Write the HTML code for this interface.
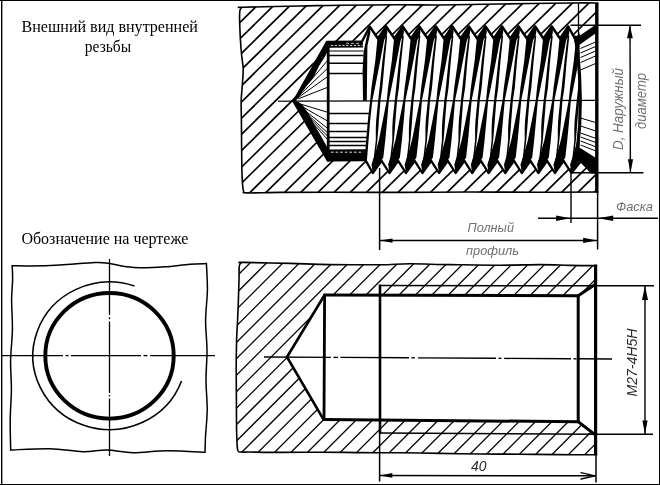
<!DOCTYPE html>
<html lang="ru">
<head>
<meta charset="utf-8">
<title>Внутренняя резьба</title>
<style>
html,body{margin:0;padding:0;background:#fff;}
body{width:660px;height:485px;overflow:hidden;font-family:"Liberation Sans",sans-serif;}
svg{display:block;will-change:transform;}
</style>
</head>
<body>
<svg width="660" height="485" viewBox="0 0 660 485">
<defs>
<clipPath id="cpTop"><path clip-rule="evenodd" d="M239.7 7.6 L243.0 7.2 L300.0 6.0 L340.0 5.2 L400.0 4.8 L440.0 5.0 L500.0 4.0 L572.0 3.0 L597.8 3.0 L597.8 192.0 L540.0 192.3 L470.0 192.0 L400.0 192.4 L330.0 192.2 L280.0 192.4 L244.5 193.0 L242.4 182.0 L241.8 165.0 L241.6 145.0 L241.4 120.0 L241.2 100.0 L242.4 84.0 L243.2 69.0 L241.6 55.0 L240.3 38.0 L239.6 20.0 Z M293.0 101.2 L328.4 42.0 L362.3 41.0 L369.7 26.5 L377.9 38.5 L386.2 26.5 L394.4 38.5 L402.8 26.5 L411.0 38.5 L419.4 26.5 L427.6 38.5 L435.9 26.5 L444.1 38.5 L452.4 26.5 L460.6 38.5 L469.0 26.5 L477.2 38.5 L485.6 26.5 L493.8 38.5 L502.1 26.5 L510.3 38.5 L518.6 26.5 L526.9 38.5 L535.2 26.5 L543.4 38.5 L551.8 26.5 L560.0 38.5 L568.3 26.5 L574.5 38.0 L579.0 36.0 L597.8 25.0 L597.8 173.0 L590.5 173.0 L581.0 161.5 L571.4 173.0 L563.7 160.8 L554.9 173.0 L547.1 160.8 L538.3 173.0 L530.6 160.8 L521.8 173.0 L514.0 160.8 L505.2 173.0 L497.5 160.8 L488.6 173.0 L480.9 160.8 L472.1 173.0 L464.4 160.8 L455.6 173.0 L447.9 160.8 L439.0 173.0 L431.3 160.8 L422.4 173.0 L414.8 160.8 L405.9 173.0 L398.2 160.8 L389.4 173.0 L381.7 160.8 L372.8 173.0 L365.6 160.2 L329.0 160.4 Z"/></clipPath>
<clipPath id="cpBot"><path clip-rule="evenodd" d="M239.6 262.6 L243.0 262.4 L290.0 263.4 L330.0 264.6 L380.0 264.8 L410.0 263.8 L450.0 264.6 L500.0 265.2 L540.0 264.6 L570.0 265.4 L596.6 265.6 L596.6 454.8 L560.0 454.6 L520.0 454.2 L480.0 454.0 L440.0 453.4 L400.0 452.8 L360.0 452.6 L320.0 452.2 L280.0 452.4 L250.0 452.0 L237.8 451.4 L236.6 430.0 L236.4 400.0 L236.2 370.0 L236.6 340.0 L237.6 320.0 L238.4 300.0 L239.0 280.0 Z M287.0 357.0 L324.6 295.0 L578.2 295.8 L596.6 284.6 L596.6 435.2 L578.2 421.7 L323.6 419.6 Z"/></clipPath>
</defs>
<rect x="0" y="0" width="660" height="485" fill="#fff"/>
<g clip-path="url(#cpTop)" stroke="#000" stroke-width="1.7">
<line x1="262.8" y1="0" x2="59.6" y2="200"/>
<line x1="279.3" y1="0" x2="76.1" y2="200"/>
<line x1="295.7" y1="0" x2="92.5" y2="200"/>
<line x1="312.2" y1="0" x2="109.0" y2="200"/>
<line x1="328.6" y1="0" x2="125.4" y2="200"/>
<line x1="345.1" y1="0" x2="141.9" y2="200"/>
<line x1="361.6" y1="0" x2="158.4" y2="200"/>
<line x1="378.0" y1="0" x2="174.8" y2="200"/>
<line x1="394.5" y1="0" x2="191.3" y2="200"/>
<line x1="410.9" y1="0" x2="308.3" y2="101"/>
<line x1="427.4" y1="0" x2="324.8" y2="101"/>
<line x1="443.9" y1="0" x2="341.2" y2="101"/>
<line x1="460.3" y1="0" x2="357.7" y2="101"/>
<line x1="476.8" y1="0" x2="374.2" y2="101"/>
<line x1="493.2" y1="0" x2="390.6" y2="101"/>
<line x1="509.7" y1="0" x2="407.1" y2="101"/>
<line x1="526.2" y1="0" x2="423.5" y2="101"/>
<line x1="542.6" y1="0" x2="440.0" y2="101"/>
<line x1="559.1" y1="0" x2="456.5" y2="101"/>
<line x1="575.5" y1="0" x2="472.9" y2="101"/>
<line x1="592.0" y1="0" x2="489.4" y2="101"/>
<line x1="608.5" y1="0" x2="505.8" y2="101"/>
<line x1="308.7" y1="101" x2="208.1" y2="200"/>
<line x1="325.0" y1="101" x2="224.4" y2="200"/>
<line x1="342.9" y1="101" x2="242.3" y2="200"/>
<line x1="358.9" y1="101" x2="258.3" y2="200"/>
<line x1="377.5" y1="101" x2="276.9" y2="200"/>
<line x1="393.6" y1="101" x2="293.0" y2="200"/>
<line x1="410.9" y1="101" x2="310.3" y2="200"/>
<line x1="427.0" y1="101" x2="326.4" y2="200"/>
<line x1="443.1" y1="101" x2="342.5" y2="200"/>
<line x1="459.3" y1="101" x2="358.7" y2="200"/>
<line x1="475.1" y1="101" x2="374.5" y2="200"/>
<line x1="490.9" y1="101" x2="390.3" y2="200"/>
<line x1="507.6" y1="101" x2="407.0" y2="200"/>
<line x1="523.3" y1="101" x2="422.7" y2="200"/>
<line x1="540.0" y1="101" x2="439.4" y2="200"/>
<line x1="556.7" y1="101" x2="456.1" y2="200"/>
<line x1="573.0" y1="101" x2="472.4" y2="200"/>
<line x1="589.3" y1="101" x2="488.7" y2="200"/>
<line x1="605.6" y1="101" x2="505.0" y2="200"/>
<line x1="621.9" y1="101" x2="521.3" y2="200"/>
<line x1="638.2" y1="101" x2="537.6" y2="200"/>
<line x1="654.4" y1="101" x2="553.8" y2="200"/>
<line x1="670.7" y1="101" x2="570.1" y2="200"/>
<line x1="687.0" y1="101" x2="586.4" y2="200"/>
</g>
<polyline points="" fill="none" stroke="#000" stroke-width="1" stroke-linejoin="round" stroke-linecap="round" />
<path d="M597.8 192.0 C588.2 192.1 561.3 192.3 540.0 192.3 C518.7 192.3 493.3 192.0 470.0 192.0 C446.7 192.0 423.3 192.4 400.0 192.4 C376.7 192.4 350.0 192.2 330.0 192.2 C310.0 192.2 293.8 192.3 280.0 192.4 C266.2 192.5 253.1 193.1 247.0 192.9 C240.9 192.7 244.4 192.8 243.6 191.0 C242.8 189.2 242.7 186.3 242.4 182.0 C242.1 177.7 241.9 171.2 241.8 165.0 C241.7 158.8 241.7 152.5 241.6 145.0 C241.5 137.5 241.5 127.5 241.4 120.0 C241.3 112.5 241.0 106.0 241.2 100.0 C241.4 94.0 242.1 89.2 242.4 84.0 C242.7 78.8 243.3 73.8 243.2 69.0 C243.1 64.2 242.1 60.2 241.6 55.0 C241.1 49.8 240.6 43.8 240.3 38.0 C240.0 32.2 239.7 24.6 239.6 20.0 C239.5 15.4 239.6 12.5 239.9 10.5 C240.2 8.5 241.1 8.5 241.6 7.9 C242.1 7.4 233.3 7.5 243.0 7.2 C252.7 6.9 283.8 6.3 300.0 6.0 C316.2 5.7 323.3 5.4 340.0 5.2 C356.7 5.0 383.3 4.8 400.0 4.8 C416.7 4.8 423.3 5.1 440.0 5.0 C456.7 4.9 478.0 4.3 500.0 4.0 C522.0 3.7 555.7 3.2 572.0 3.0 C588.3 2.8 593.5 3.0 597.8 3.0" fill="none" stroke="#000" stroke-width="1.6" stroke-linecap="round" stroke-linejoin="round"/>
<polygon points="292.0,102.0 326.0,41.2 329.6,41.2 329.6,47.5 325.3,56.0 319.0,66.0 314.2,76.0 305.8,86.7 298.5,97.5 295.0,101.8" fill="#000" stroke="none" stroke-width="0" />
<polygon points="292.0,101.0 297.5,101.2 303.0,105.5 310.0,116.0 315.0,126.0 321.0,136.0 326.5,146.0 329.6,150.0 329.6,161.6 327.2,161.8" fill="#000" stroke="none" stroke-width="0" />
<line x1="298.1" y1="95.6" x2="328.4" y2="59.5" stroke="#000" stroke-width="1.0" />
<line x1="298.1" y1="96.5" x2="328.4" y2="67.5" stroke="#000" stroke-width="1.0" />
<line x1="298.1" y1="97.6" x2="328.4" y2="76.0" stroke="#000" stroke-width="1.0" />
<line x1="298.1" y1="98.9" x2="328.4" y2="87.0" stroke="#000" stroke-width="1.0" />
<line x1="298.1" y1="103.3" x2="328.4" y2="112.5" stroke="#000" stroke-width="1.0" />
<line x1="298.1" y1="104.3" x2="328.4" y2="121.5" stroke="#000" stroke-width="1.0" />
<line x1="298.1" y1="105.2" x2="328.4" y2="129.0" stroke="#000" stroke-width="1.0" />
<line x1="298.1" y1="105.8" x2="328.4" y2="133.5" stroke="#000" stroke-width="1.0" />
<line x1="298.1" y1="106.2" x2="328.4" y2="137.0" stroke="#000" stroke-width="1.0" />
<line x1="298.1" y1="106.6" x2="328.4" y2="140.5" stroke="#000" stroke-width="1.0" />
<line x1="328.2" y1="41.0" x2="328.2" y2="161.0" stroke="#000" stroke-width="2.8" />
<polygon points="326.5,40.8 362.6,40.4 363.2,47.6 327.5,47.8" fill="#000" stroke="none" stroke-width="0" />
<polygon points="327.0,149.6 366.6,149.2 365.4,161.2 327.8,161.4" fill="#000" stroke="none" stroke-width="0" />
<line x1="331.0" y1="45.4" x2="362.5" y2="45.4" stroke="#fff" stroke-width="0.9" stroke-dasharray="2.2 1.6"/>
<line x1="346.0" y1="43.4" x2="361.0" y2="43.4" stroke="#fff" stroke-width="0.7" stroke-dasharray="3 2"/>
<line x1="331.0" y1="152.2" x2="363.5" y2="152.2" stroke="#fff" stroke-width="0.9" stroke-dasharray="2.6 2"/>
<line x1="328.4" y1="51.0" x2="363.5" y2="51.0" stroke="#000" stroke-width="1.1" />
<line x1="328.4" y1="55.5" x2="363.5" y2="55.5" stroke="#000" stroke-width="1.5" />
<line x1="328.4" y1="63.2" x2="363.5" y2="63.2" stroke="#000" stroke-width="1.6" />
<line x1="328.4" y1="73.5" x2="363.5" y2="73.5" stroke="#000" stroke-width="1.3" />
<line x1="328.4" y1="113.5" x2="369.7" y2="113.5" stroke="#000" stroke-width="1.3" />
<line x1="328.4" y1="123.5" x2="368.8" y2="123.5" stroke="#000" stroke-width="1.3" />
<line x1="328.4" y1="131.5" x2="368.1" y2="131.5" stroke="#000" stroke-width="1.3" />
<line x1="328.4" y1="137.5" x2="367.6" y2="137.5" stroke="#000" stroke-width="1.3" />
<line x1="328.4" y1="141.5" x2="367.2" y2="141.5" stroke="#000" stroke-width="1.3" />
<line x1="328.4" y1="145.5" x2="366.9" y2="145.5" stroke="#000" stroke-width="1.4" />
<clipPath id="cpThr"><rect x="355" y="20" width="224.6" height="160"/></clipPath>
<g clip-path="url(#cpThr)">
<polygon points="370.6,25.9 370.3,33.0 367.4,46.0 366.8,100.8 363.0,100.8 362.6,70.0 363.6,52.0 366.0,40.0 369.1,26.5" fill="#000" stroke="none" stroke-width="0" />
<polygon points="387.1,25.7 387.4,32.0 386.6,36.5 384.6,39.0 383.9,41.5 380.4,60.0 374.9,88.0 372.4,100.0 370.2,120.0 368.6,140.0 366.9,160.6 364.6,160.6 366.2,140.0 367.9,120.0 370.2,100.0 371.4,88.0 375.4,60.0 377.2,41.0 377.4,39.0 385.2,25.7" fill="#000" stroke="none" stroke-width="0" />
<polygon points="387.2,36.0 386.7,41.0 384.8,60.0 382.3,88.0 380.5,100.0 378.9,120.0 378.4,128.0 377.4,140.0 375.4,157.0 372.8,165.5 371.3,165.5 373.9,157.0 375.8,140.0 375.8,128.0 376.2,120.0 378.2,100.0 379.6,88.0 382.5,60.0 385.0,41.0 385.9,36.0" fill="#000" stroke="none" stroke-width="0" />
<polygon points="403.7,25.7 403.9,32.0 403.1,36.5 401.2,39.0 400.4,41.5 396.9,60.0 391.4,88.0 388.9,100.0 387.2,120.0 385.3,140.0 383.3,157.5 381.5,160.2 372.8,174.0 371.8,166.0 374.0,157.5 378.9,140.0 382.9,120.0 386.8,100.0 388.0,88.0 391.9,60.0 393.8,41.0 393.9,39.0 401.8,25.7" fill="#000" stroke="none" stroke-width="0" />
<polygon points="403.8,36.0 403.3,41.0 401.3,60.0 398.9,88.0 397.1,100.0 395.5,120.0 394.9,128.0 393.9,140.0 391.9,157.0 389.4,165.5 387.9,165.5 390.4,157.0 392.3,140.0 392.3,128.0 392.7,120.0 394.8,100.0 396.1,88.0 399.1,60.0 401.6,41.0 402.4,36.0" fill="#000" stroke="none" stroke-width="0" />
<polygon points="420.2,25.7 420.5,32.0 419.7,36.5 417.8,39.0 417.0,41.5 413.5,60.0 408.0,88.0 405.5,100.0 403.8,120.0 401.9,140.0 399.9,157.5 398.1,160.2 389.4,174.0 388.4,166.0 390.6,157.5 395.5,140.0 399.5,120.0 403.4,100.0 404.6,88.0 408.5,60.0 410.4,41.0 410.5,39.0 418.4,25.7" fill="#000" stroke="none" stroke-width="0" />
<polygon points="420.4,36.0 419.8,41.0 417.9,60.0 415.4,88.0 413.6,100.0 412.1,120.0 411.5,128.0 410.5,140.0 408.5,157.0 405.9,165.5 404.4,165.5 407.0,157.0 408.9,140.0 408.9,128.0 409.3,120.0 411.3,100.0 412.7,88.0 415.6,60.0 418.1,41.0 419.0,36.0" fill="#000" stroke="none" stroke-width="0" />
<polygon points="436.8,25.7 437.0,32.0 436.2,36.5 434.3,39.0 433.5,41.5 430.0,60.0 424.5,88.0 422.0,100.0 420.3,120.0 418.4,140.0 416.4,157.5 414.6,160.2 405.9,174.0 404.9,166.0 407.1,157.5 412.0,140.0 416.0,120.0 419.9,100.0 421.1,88.0 425.0,60.0 426.9,41.0 427.0,39.0 434.9,25.7" fill="#000" stroke="none" stroke-width="0" />
<polygon points="436.9,36.0 436.4,41.0 434.4,60.0 432.0,88.0 430.1,100.0 428.6,120.0 428.0,128.0 427.0,140.0 425.0,157.0 422.4,165.5 420.9,165.5 423.5,157.0 425.4,140.0 425.4,128.0 425.8,120.0 427.9,100.0 429.2,88.0 432.2,60.0 434.6,41.0 435.5,36.0" fill="#000" stroke="none" stroke-width="0" />
<polygon points="453.3,25.7 453.6,32.0 452.8,36.5 450.8,39.0 450.1,41.5 446.6,60.0 441.1,88.0 438.6,100.0 436.8,120.0 434.9,140.0 432.9,157.5 431.1,160.2 422.4,174.0 421.4,166.0 423.6,157.5 428.6,140.0 432.6,120.0 436.4,100.0 437.6,88.0 441.6,60.0 443.4,41.0 443.6,39.0 451.4,25.7" fill="#000" stroke="none" stroke-width="0" />
<polygon points="453.4,36.0 452.9,41.0 450.9,60.0 448.5,88.0 446.7,100.0 445.1,120.0 444.6,128.0 443.6,140.0 441.6,157.0 439.0,165.5 437.5,165.5 440.1,157.0 441.9,140.0 441.9,128.0 442.4,120.0 444.4,100.0 445.8,88.0 448.7,60.0 451.2,41.0 452.1,36.0" fill="#000" stroke="none" stroke-width="0" />
<polygon points="469.9,25.7 470.1,32.0 469.3,36.5 467.4,39.0 466.6,41.5 463.1,60.0 457.6,88.0 455.1,100.0 453.4,120.0 451.5,140.0 449.5,157.5 447.7,160.2 439.0,174.0 438.0,166.0 440.2,157.5 445.1,140.0 449.1,120.0 453.0,100.0 454.2,88.0 458.1,60.0 460.0,41.0 460.1,39.0 468.0,25.7" fill="#000" stroke="none" stroke-width="0" />
<polygon points="470.0,36.0 469.5,41.0 467.5,60.0 465.1,88.0 463.2,100.0 461.7,120.0 461.1,128.0 460.1,140.0 458.1,157.0 455.6,165.5 454.1,165.5 456.6,157.0 458.5,140.0 458.5,128.0 458.9,120.0 461.0,100.0 462.3,88.0 465.3,60.0 467.8,41.0 468.6,36.0" fill="#000" stroke="none" stroke-width="0" />
<polygon points="486.4,25.7 486.7,32.0 485.9,36.5 483.9,39.0 483.2,41.5 479.7,60.0 474.2,88.0 471.7,100.0 469.9,120.0 468.1,140.0 466.1,157.5 464.2,160.2 455.6,174.0 454.6,166.0 456.8,157.5 461.7,140.0 465.7,120.0 469.6,100.0 470.8,88.0 474.7,60.0 476.6,41.0 476.7,39.0 484.6,25.7" fill="#000" stroke="none" stroke-width="0" />
<polygon points="486.6,36.0 486.0,41.0 484.1,60.0 481.6,88.0 479.8,100.0 478.2,120.0 477.7,128.0 476.7,140.0 474.7,157.0 472.1,165.5 470.6,165.5 473.2,157.0 475.1,140.0 475.1,128.0 475.5,120.0 477.5,100.0 478.9,88.0 481.8,60.0 484.3,41.0 485.2,36.0" fill="#000" stroke="none" stroke-width="0" />
<polygon points="503.0,25.7 503.2,32.0 502.4,36.5 500.5,39.0 499.7,41.5 496.2,60.0 490.7,88.0 488.2,100.0 486.5,120.0 484.6,140.0 482.6,157.5 480.8,160.2 472.1,174.0 471.1,166.0 473.3,157.5 478.2,140.0 482.2,120.0 486.1,100.0 487.3,88.0 491.2,60.0 493.1,41.0 493.2,39.0 501.1,25.7" fill="#000" stroke="none" stroke-width="0" />
<polygon points="503.1,36.0 502.6,41.0 500.6,60.0 498.2,88.0 496.4,100.0 494.8,120.0 494.2,128.0 493.2,140.0 491.2,157.0 488.7,165.5 487.2,165.5 489.8,157.0 491.6,140.0 491.6,128.0 492.0,120.0 494.1,100.0 495.4,88.0 498.4,60.0 500.9,41.0 501.7,36.0" fill="#000" stroke="none" stroke-width="0" />
<polygon points="519.5,25.7 519.8,32.0 518.9,36.5 517.0,39.0 516.2,41.5 512.8,60.0 507.2,88.0 504.8,100.0 503.0,120.0 501.1,140.0 499.1,157.5 497.3,160.2 488.6,174.0 487.6,166.0 489.8,157.5 494.8,140.0 498.8,120.0 502.6,100.0 503.8,88.0 507.8,60.0 509.6,41.0 509.8,39.0 517.6,25.7" fill="#000" stroke="none" stroke-width="0" />
<polygon points="519.6,36.0 519.1,41.0 517.1,60.0 514.8,88.0 512.9,100.0 511.3,120.0 510.8,128.0 509.8,140.0 507.8,157.0 505.2,165.5 503.7,165.5 506.3,157.0 508.1,140.0 508.1,128.0 508.6,120.0 510.6,100.0 512.0,88.0 514.9,60.0 517.4,41.0 518.2,36.0" fill="#000" stroke="none" stroke-width="0" />
<polygon points="536.1,25.7 536.3,32.0 535.5,36.5 533.6,39.0 532.8,41.5 529.3,60.0 523.8,88.0 521.3,100.0 519.6,120.0 517.7,140.0 515.7,157.5 513.9,160.2 505.2,174.0 504.2,166.0 506.4,157.5 511.3,140.0 515.3,120.0 519.2,100.0 520.4,88.0 524.3,60.0 526.2,41.0 526.3,39.0 534.2,25.7" fill="#000" stroke="none" stroke-width="0" />
<polygon points="536.2,36.0 535.7,41.0 533.7,60.0 531.3,88.0 529.5,100.0 527.9,120.0 527.3,128.0 526.3,140.0 524.4,157.0 521.8,165.5 520.2,165.5 522.9,157.0 524.7,140.0 524.7,128.0 525.1,120.0 527.2,100.0 528.5,88.0 531.5,60.0 534.0,41.0 534.8,36.0" fill="#000" stroke="none" stroke-width="0" />
<polygon points="552.6,25.7 552.9,32.0 552.0,36.5 550.1,39.0 549.4,41.5 545.9,60.0 540.4,88.0 537.9,100.0 536.1,120.0 534.2,140.0 532.2,157.5 530.5,160.2 521.8,174.0 520.8,166.0 523.0,157.5 527.9,140.0 531.9,120.0 535.8,100.0 537.0,88.0 540.9,60.0 542.8,41.0 542.9,39.0 550.8,25.7" fill="#000" stroke="none" stroke-width="0" />
<polygon points="552.8,36.0 552.2,41.0 550.2,60.0 547.9,88.0 546.0,100.0 544.4,120.0 543.8,128.0 542.8,140.0 540.9,157.0 538.3,165.5 536.8,165.5 539.4,157.0 541.2,140.0 541.2,128.0 541.6,120.0 543.7,100.0 545.1,88.0 548.0,60.0 550.5,41.0 551.3,36.0" fill="#000" stroke="none" stroke-width="0" />
<polygon points="569.2,25.7 569.4,32.0 568.6,36.5 566.7,39.0 565.9,41.5 562.4,60.0 556.9,88.0 554.4,100.0 552.7,120.0 550.8,140.0 548.8,157.5 547.0,160.2 538.3,174.0 537.3,166.0 539.5,157.5 544.4,140.0 548.4,120.0 552.3,100.0 553.5,88.0 557.4,60.0 559.3,41.0 559.4,39.0 567.3,25.7" fill="#000" stroke="none" stroke-width="0" />
<polygon points="569.3,36.0 568.8,41.0 566.8,60.0 564.4,88.0 562.5,100.0 561.0,120.0 560.4,128.0 559.4,140.0 557.4,157.0 554.8,165.5 553.3,165.5 555.9,157.0 557.8,140.0 557.8,128.0 558.2,120.0 560.2,100.0 561.6,88.0 564.6,60.0 567.0,41.0 567.9,36.0" fill="#000" stroke="none" stroke-width="0" />
<polygon points="585.7,25.7 585.9,32.0 585.1,36.5 583.2,39.0 582.4,41.5 578.9,60.0 573.4,88.0 570.9,100.0 569.2,120.0 567.3,140.0 565.3,157.5 563.5,160.2 554.8,174.0 553.8,166.0 556.0,157.5 560.9,140.0 564.9,120.0 568.8,100.0 570.0,88.0 573.9,60.0 575.8,41.0 575.9,39.0 583.8,25.7" fill="#000" stroke="none" stroke-width="0" />
<polygon points="585.8,36.0 585.3,41.0 583.3,60.0 580.9,88.0 579.1,100.0 577.5,120.0 576.9,128.0 575.9,140.0 574.0,157.0 571.4,165.5 569.9,165.5 572.5,157.0 574.3,140.0 574.3,128.0 574.7,120.0 576.8,100.0 578.1,88.0 581.1,60.0 583.6,41.0 584.4,36.0" fill="#000" stroke="none" stroke-width="0" />
<polygon points="602.3,25.7 602.5,32.0 601.7,36.5 599.8,39.0 599.0,41.5 595.5,60.0 590.0,88.0 587.5,100.0 585.8,120.0 583.9,140.0 581.9,157.5 580.1,160.2 571.4,174.0 570.4,166.0 572.6,157.5 577.5,140.0 581.5,120.0 585.4,100.0 586.6,88.0 590.5,60.0 592.4,41.0 592.5,39.0 600.4,25.7" fill="#000" stroke="none" stroke-width="0" />
<polygon points="602.4,36.0 601.9,41.0 599.9,60.0 597.5,88.0 595.6,100.0 594.1,120.0 593.5,128.0 592.5,140.0 590.5,157.0 587.9,165.5 586.4,165.5 589.0,157.0 590.9,140.0 590.9,128.0 591.3,120.0 593.4,100.0 594.7,88.0 597.7,60.0 600.1,41.0 601.0,36.0" fill="#000" stroke="none" stroke-width="0" />
</g>
<polyline points="362.3,41.0 369.7,26.5 377.9,38.5 386.2,26.5 394.4,38.5 402.8,26.5 411.0,38.5 419.4,26.5 427.6,38.5 435.9,26.5 444.1,38.5 452.4,26.5 460.6,38.5 469.0,26.5 477.2,38.5 485.6,26.5 493.8,38.5 502.1,26.5 510.3,38.5 518.6,26.5 526.9,38.5 535.2,26.5 543.4,38.5 551.8,26.5 560.0,38.5 568.3,26.5 574.5,38.0 579.0,36.0" fill="none" stroke="#000" stroke-width="2.4" stroke-linejoin="round" stroke-linecap="round" />
<polyline points="365.6,160.4 372.8,173.0 381.6,160.8 389.4,173.0 398.2,160.8 405.9,173.0 414.7,160.8 422.4,173.0 431.2,160.8 439.0,173.0 447.8,160.8 455.6,173.0 464.4,160.8 472.1,173.0 480.9,160.8 488.6,173.0 497.4,160.8 505.2,173.0 514.0,160.8 521.8,173.0 530.5,160.8 538.3,173.0 547.1,160.8 554.9,173.0 563.6,160.8 571.4,173.0 581.0,161.0" fill="none" stroke="#000" stroke-width="2.3" stroke-linejoin="round" stroke-linecap="round" />
<polyline points="575.0,37.0 577.6,50.0 579.5,75.0 580.3,100.0 579.7,125.0 577.8,145.0 576.0,158.0" fill="none" stroke="#000" stroke-width="3.2" stroke-linejoin="round" stroke-linecap="round" />
<line x1="578.5" y1="3.5" x2="578.5" y2="36.0" stroke="#000" stroke-width="1.3" />
<polygon points="577.0,37.5 596.8,24.0 596.8,32.5 580.0,44.5 577.0,44.5" fill="#000" stroke="none" stroke-width="0" />
<polygon points="577.0,146.0 581.0,148.5 596.8,158.5 596.8,173.6 591.0,173.6 580.0,162.0 577.0,159.5" fill="#000" stroke="none" stroke-width="0" />
<line x1="580.5" y1="48.5" x2="595.5" y2="42.0" stroke="#000" stroke-width="1.0" />
<line x1="580.5" y1="53.0" x2="595.5" y2="46.5" stroke="#000" stroke-width="1.0" />
<line x1="580.5" y1="57.5" x2="595.5" y2="51.0" stroke="#000" stroke-width="1.0" />
<line x1="580.5" y1="62.5" x2="595.5" y2="56.0" stroke="#000" stroke-width="1.0" />
<line x1="580.5" y1="70.0" x2="595.5" y2="63.5" stroke="#000" stroke-width="1.0" />
<line x1="580.5" y1="118.0" x2="595.5" y2="122.5" stroke="#000" stroke-width="1.0" />
<line x1="580.5" y1="126.0" x2="595.5" y2="130.9" stroke="#000" stroke-width="1.0" />
<line x1="580.5" y1="133.0" x2="595.5" y2="138.2" stroke="#000" stroke-width="1.0" />
<line x1="580.5" y1="137.0" x2="595.5" y2="142.4" stroke="#000" stroke-width="1.0" />
<line x1="580.5" y1="141.0" x2="595.5" y2="146.7" stroke="#000" stroke-width="1.0" />
<line x1="580.5" y1="145.0" x2="595.5" y2="150.8" stroke="#000" stroke-width="1.0" />
<line x1="596.8" y1="3.0" x2="596.8" y2="192.5" stroke="#000" stroke-width="3.4" />
<line x1="278.0" y1="101.2" x2="293.0" y2="101.2" stroke="#000" stroke-width="1.2" />
<line x1="293.0" y1="101.2" x2="597.0" y2="100.4" stroke="#000" stroke-width="1.2" />
<line x1="570.5" y1="25.2" x2="641.0" y2="25.2" stroke="#000" stroke-width="1.4" />
<line x1="571.0" y1="172.8" x2="643.5" y2="172.8" stroke="#000" stroke-width="1.4" />
<line x1="630.0" y1="25.5" x2="630.4" y2="172.5" stroke="#000" stroke-width="1.4" />
<polygon points="629.9,25.3 632.8,38.3 627.0,38.3" fill="#000" stroke="none" stroke-width="0" />
<polygon points="630.5,172.7 627.9,159.2 633.1,159.2" fill="#000" stroke="none" stroke-width="0" />
<line x1="379.6" y1="168.0" x2="379.6" y2="250.0" stroke="#000" stroke-width="1.5" />
<line x1="571.0" y1="168.0" x2="571.0" y2="223.0" stroke="#000" stroke-width="1.4" />
<line x1="597.6" y1="192.0" x2="597.6" y2="249.5" stroke="#000" stroke-width="1.5" />
<line x1="538.0" y1="218.2" x2="658.0" y2="218.2" stroke="#000" stroke-width="1.4" />
<polygon points="570.6,218.2 556.1,220.9 556.1,215.5" fill="#000" stroke="none" stroke-width="0" />
<polygon points="598.2,218.2 613.2,215.4 613.2,221.0" fill="#000" stroke="none" stroke-width="0" />
<line x1="380.0" y1="240.6" x2="597.0" y2="240.6" stroke="#000" stroke-width="1.5" />
<polygon points="380.0,240.6 392.5,238.4 392.5,242.8" fill="#000" stroke="none" stroke-width="0" />
<polygon points="597.2,240.4 583.2,243.0 583.2,237.8" fill="#000" stroke="none" stroke-width="0" />
<g clip-path="url(#cpBot)" stroke="#000" stroke-width="1.3">
<line x1="241.6" y1="255" x2="36.6" y2="460"/>
<line x1="258.0" y1="255" x2="53.0" y2="460"/>
<line x1="274.5" y1="255" x2="69.5" y2="460"/>
<line x1="290.9" y1="255" x2="85.9" y2="460"/>
<line x1="307.4" y1="255" x2="102.4" y2="460"/>
<line x1="323.8" y1="255" x2="118.8" y2="460"/>
<line x1="340.2" y1="255" x2="135.2" y2="460"/>
<line x1="356.7" y1="255" x2="151.7" y2="460"/>
<line x1="373.1" y1="255" x2="168.1" y2="460"/>
<line x1="389.6" y1="255" x2="184.6" y2="460"/>
<line x1="406.0" y1="255" x2="201.0" y2="460"/>
<line x1="422.5" y1="255" x2="217.5" y2="460"/>
<line x1="439.0" y1="255" x2="234.0" y2="460"/>
<line x1="455.4" y1="255" x2="250.4" y2="460"/>
<line x1="471.9" y1="255" x2="266.9" y2="460"/>
<line x1="488.3" y1="255" x2="283.3" y2="460"/>
<line x1="504.8" y1="255" x2="299.8" y2="460"/>
<line x1="521.2" y1="255" x2="316.2" y2="460"/>
<line x1="537.6" y1="255" x2="332.6" y2="460"/>
<line x1="554.1" y1="255" x2="349.1" y2="460"/>
<line x1="570.5" y1="255" x2="365.5" y2="460"/>
<line x1="587.0" y1="255" x2="382.0" y2="460"/>
<line x1="603.5" y1="255" x2="398.5" y2="460"/>
<line x1="619.9" y1="255" x2="414.9" y2="460"/>
<line x1="636.3" y1="255" x2="431.3" y2="460"/>
<line x1="652.8" y1="255" x2="447.8" y2="460"/>
<line x1="669.2" y1="255" x2="464.2" y2="460"/>
<line x1="685.7" y1="255" x2="480.7" y2="460"/>
<line x1="702.1" y1="255" x2="497.1" y2="460"/>
<line x1="718.6" y1="255" x2="513.6" y2="460"/>
<line x1="735.0" y1="255" x2="530.0" y2="460"/>
<line x1="751.5" y1="255" x2="546.5" y2="460"/>
<line x1="768.0" y1="255" x2="563.0" y2="460"/>
<line x1="784.4" y1="255" x2="579.4" y2="460"/>
<line x1="800.8" y1="255" x2="595.8" y2="460"/>
<line x1="817.3" y1="255" x2="612.3" y2="460"/>
</g>
<path d="M596.6 454.8 C590.5 454.8 572.8 454.7 560.0 454.6 C547.2 454.5 533.3 454.3 520.0 454.2 C506.7 454.1 493.3 454.1 480.0 454.0 C466.7 453.9 453.3 453.6 440.0 453.4 C426.7 453.2 413.3 452.9 400.0 452.8 C386.7 452.7 373.3 452.7 360.0 452.6 C346.7 452.5 333.3 452.2 320.0 452.2 C306.7 452.2 291.7 452.4 280.0 452.4 C268.3 452.4 256.5 452.1 250.0 452.0 C243.5 451.9 243.1 452.4 241.0 452.0 C238.9 451.6 238.3 453.3 237.6 449.6 C236.9 445.9 236.8 438.3 236.6 430.0 C236.4 421.7 236.5 410.0 236.4 400.0 C236.3 390.0 236.2 380.0 236.2 370.0 C236.2 360.0 236.4 348.3 236.6 340.0 C236.8 331.7 237.3 326.7 237.6 320.0 C237.9 313.3 238.2 306.7 238.4 300.0 C238.6 293.3 238.8 285.7 239.0 280.0 C239.2 274.3 238.9 268.9 239.3 266.0 C239.7 263.1 240.6 263.5 241.2 262.9 C241.8 262.3 234.9 262.3 243.0 262.4 C251.1 262.5 275.5 263.0 290.0 263.4 C304.5 263.8 315.0 264.4 330.0 264.6 C345.0 264.8 366.7 264.9 380.0 264.8 C393.3 264.7 398.3 263.8 410.0 263.8 C421.7 263.8 435.0 264.4 450.0 264.6 C465.0 264.8 485.0 265.2 500.0 265.2 C515.0 265.2 528.3 264.6 540.0 264.6 C551.7 264.6 560.6 265.2 570.0 265.4 C579.4 265.6 592.2 265.6 596.6 265.6" fill="none" stroke="#000" stroke-width="1.6" stroke-linecap="round" stroke-linejoin="round"/>
<line x1="380.0" y1="285.5" x2="595.6" y2="285.8" stroke="#000" stroke-width="1.5" />
<line x1="380.0" y1="433.0" x2="595.6" y2="434.2" stroke="#000" stroke-width="1.5" />
<polyline points="287.0,357.0 324.6,295.0" fill="none" stroke="#000" stroke-width="2.6" stroke-linejoin="round" stroke-linecap="round" />
<polyline points="287.0,357.0 323.6,419.6" fill="none" stroke="#000" stroke-width="2.6" stroke-linejoin="round" stroke-linecap="round" />
<polyline points="324.6,295.0 578.2,295.8" fill="none" stroke="#000" stroke-width="3.0" stroke-linejoin="round" stroke-linecap="round" />
<polyline points="323.6,419.6 578.2,421.7" fill="none" stroke="#000" stroke-width="3.0" stroke-linejoin="round" stroke-linecap="round" />
<line x1="324.6" y1="295.0" x2="324.0" y2="419.6" stroke="#000" stroke-width="2.8" />
<line x1="380.0" y1="284.5" x2="380.0" y2="434.0" stroke="#000" stroke-width="2.6" />
<line x1="578.2" y1="295.8" x2="578.2" y2="421.7" stroke="#000" stroke-width="3.0" />
<polyline points="578.2,295.8 595.0,284.6" fill="none" stroke="#000" stroke-width="3.0" stroke-linejoin="round" stroke-linecap="round" />
<polyline points="578.2,421.7 595.0,434.6" fill="none" stroke="#000" stroke-width="3.0" stroke-linejoin="round" stroke-linecap="round" />
<line x1="595.6" y1="264.6" x2="595.6" y2="455.2" stroke="#000" stroke-width="3.2" />
<line x1="264.0" y1="357.0" x2="331.0" y2="357.4" stroke="#000" stroke-width="1.4" />
<line x1="333.5" y1="357.4" x2="338.0" y2="357.4" stroke="#000" stroke-width="1.4" />
<line x1="340.5" y1="357.4" x2="409.0" y2="357.8" stroke="#000" stroke-width="1.4" />
<line x1="411.5" y1="357.8" x2="415.0" y2="357.9" stroke="#000" stroke-width="1.4" />
<line x1="418.0" y1="357.9" x2="496.0" y2="358.3" stroke="#000" stroke-width="1.4" />
<line x1="498.5" y1="358.3" x2="501.5" y2="358.4" stroke="#000" stroke-width="1.4" />
<line x1="504.0" y1="358.4" x2="571.0" y2="358.8" stroke="#000" stroke-width="1.4" />
<line x1="573.5" y1="358.8" x2="576.5" y2="358.8" stroke="#000" stroke-width="1.4" />
<line x1="579.0" y1="358.8" x2="612.0" y2="359.0" stroke="#000" stroke-width="1.4" />
<line x1="595.6" y1="285.8" x2="654.0" y2="285.8" stroke="#000" stroke-width="1.4" />
<line x1="595.6" y1="434.2" x2="653.0" y2="434.2" stroke="#000" stroke-width="1.4" />
<line x1="645.0" y1="286.0" x2="645.0" y2="434.0" stroke="#000" stroke-width="1.4" />
<polygon points="645.0,286.0 648.0,300.0 642.0,300.0" fill="#000" stroke="none" stroke-width="0" />
<polygon points="645.0,434.0 642.4,420.5 647.6,420.5" fill="#000" stroke="none" stroke-width="0" />
<line x1="379.6" y1="434.0" x2="379.6" y2="481.5" stroke="#000" stroke-width="1.5" />
<line x1="596.0" y1="455.0" x2="596.0" y2="482.5" stroke="#000" stroke-width="1.5" />
<line x1="380.0" y1="475.4" x2="595.5" y2="475.8" stroke="#000" stroke-width="1.5" />
<polygon points="379.8,475.4 392.3,473.0 392.3,477.8" fill="#000" stroke="none" stroke-width="0" />
<polyline points="581.0,472.6 595.2,475.8 581.0,479.0" fill="none" stroke="#000" stroke-width="1.3" stroke-linejoin="round" stroke-linecap="round" />
<path d="M12.2 265.8 C15.2 265.8 22.0 266.1 30.0 266.0 C38.0 265.9 49.2 265.6 60.0 265.0 C70.8 264.4 86.8 262.9 95.0 262.6 C103.2 262.3 104.0 262.8 109.0 263.4 C114.0 264.0 119.8 265.7 125.0 266.4 C130.2 267.1 133.3 267.7 140.0 267.8 C146.7 267.9 156.7 267.4 165.0 266.8 C173.3 266.2 183.1 264.7 190.0 264.2 C196.9 263.7 203.7 263.7 206.4 263.6" fill="none" stroke="#000" stroke-width="1.5" stroke-linecap="round" stroke-linejoin="round"/>
<path d="M206.4 263.6 C206.6 268.0 207.5 280.6 207.4 290.0 C207.3 299.4 205.7 310.0 205.6 320.0 C205.5 330.0 206.9 340.0 207.0 350.0 C207.1 360.0 206.0 370.0 206.0 380.0 C206.0 390.0 207.3 400.8 207.2 410.0 C207.1 419.2 206.0 427.9 205.6 435.0 C205.2 442.1 205.1 449.4 205.0 452.3" fill="none" stroke="#000" stroke-width="1.5" stroke-linecap="round" stroke-linejoin="round"/>
<path d="M205.0 452.3 C198.7 452.0 179.0 450.6 167.0 450.7 C155.0 450.8 143.0 452.8 133.0 452.7 C123.0 452.6 115.3 450.2 107.0 450.0 C98.7 449.8 92.5 451.9 83.0 451.7 C73.5 451.5 62.0 449.0 50.0 448.7 C38.0 448.4 17.2 449.8 10.7 450.0" fill="none" stroke="#000" stroke-width="1.5" stroke-linecap="round" stroke-linejoin="round"/>
<path d="M10.7 450.0 C10.6 445.0 10.1 430.0 10.2 420.0 C10.3 410.0 11.3 400.0 11.4 390.0 C11.5 380.0 10.4 370.0 10.6 360.0 C10.8 350.0 12.2 340.0 12.4 330.0 C12.6 320.0 11.6 308.3 11.6 300.0 C11.6 291.7 12.5 285.7 12.6 280.0 C12.7 274.3 12.3 268.2 12.2 265.8" fill="none" stroke="#000" stroke-width="1.5" stroke-linecap="round" stroke-linejoin="round"/>
<ellipse cx="109.5" cy="355.8" rx="64.2" ry="62.8" fill="none" stroke="#000" stroke-width="3.9"/>
<path d="M134.4 286.0 A76.6 73.8 0 1 0 181.5 381.0" fill="none" stroke="#000" stroke-width="1.6"/>
<line x1="2.0" y1="355.6" x2="63.0" y2="355.6" stroke="#000" stroke-width="1.3" />
<line x1="65.5" y1="355.6" x2="68.5" y2="355.6" stroke="#000" stroke-width="1.3" />
<line x1="71.0" y1="355.6" x2="141.0" y2="355.6" stroke="#000" stroke-width="1.3" />
<line x1="143.5" y1="355.6" x2="147.5" y2="355.6" stroke="#000" stroke-width="1.3" />
<line x1="150.0" y1="355.6" x2="215.0" y2="355.6" stroke="#000" stroke-width="1.3" />
<line x1="109.5" y1="259.0" x2="109.5" y2="315.0" stroke="#000" stroke-width="1.3" />
<line x1="109.5" y1="317.2" x2="109.5" y2="319.2" stroke="#000" stroke-width="1.3" />
<line x1="109.5" y1="321.5" x2="109.5" y2="393.0" stroke="#000" stroke-width="1.3" />
<line x1="109.5" y1="395.0" x2="109.5" y2="396.5" stroke="#000" stroke-width="1.3" />
<line x1="109.5" y1="398.5" x2="109.5" y2="456.0" stroke="#000" stroke-width="1.3" />
<g font-family="'Liberation Serif', serif" font-size="16px" fill="#000">
<text x="21.5" y="31.8" textLength="176.4" lengthAdjust="spacingAndGlyphs">Внешний вид внутренней</text>
<text x="84.8" y="51.5" textLength="46.4" lengthAdjust="spacingAndGlyphs">резьбы</text>
<text x="21.4" y="243.8" textLength="167" lengthAdjust="spacingAndGlyphs">Обозначение на чертеже</text>
</g>
<g font-family="'Liberation Sans', sans-serif" font-style="italic" fill="#707070">
<text x="467.5" y="232" font-size="13.5px" textLength="46.5" lengthAdjust="spacingAndGlyphs">Полный</text>
<text x="466" y="255" font-size="13.5px" textLength="53" lengthAdjust="spacingAndGlyphs">профиль</text>
<text x="616" y="211" font-size="13.5px" textLength="37" lengthAdjust="spacingAndGlyphs">Фаска</text>
<text transform="translate(623,150) rotate(-90)" font-size="14px" textLength="82" lengthAdjust="spacingAndGlyphs">D, Наружный</text>
<text transform="translate(646,129) rotate(-90)" font-size="14px" textLength="56" lengthAdjust="spacingAndGlyphs">диаметр</text>
</g>
<g font-family="'Liberation Sans', sans-serif" font-style="italic" fill="#2a2a2a">
<text transform="translate(637.4,396.5) rotate(-90)" font-size="15px" textLength="68" lengthAdjust="spacingAndGlyphs">M27-4H5H</text>
<text x="471" y="470.5" font-size="14.5px" textLength="15.5" lengthAdjust="spacingAndGlyphs">40</text>
</g>
<rect x="0" y="0" width="660" height="1" fill="#000"/>
<rect x="0" y="484" width="660" height="1" fill="#000"/>
<rect x="659" y="0" width="1" height="485" fill="#000"/>
<rect x="1" y="0" width="1.4" height="485" fill="#000"/>
</svg>
</body>
</html>
